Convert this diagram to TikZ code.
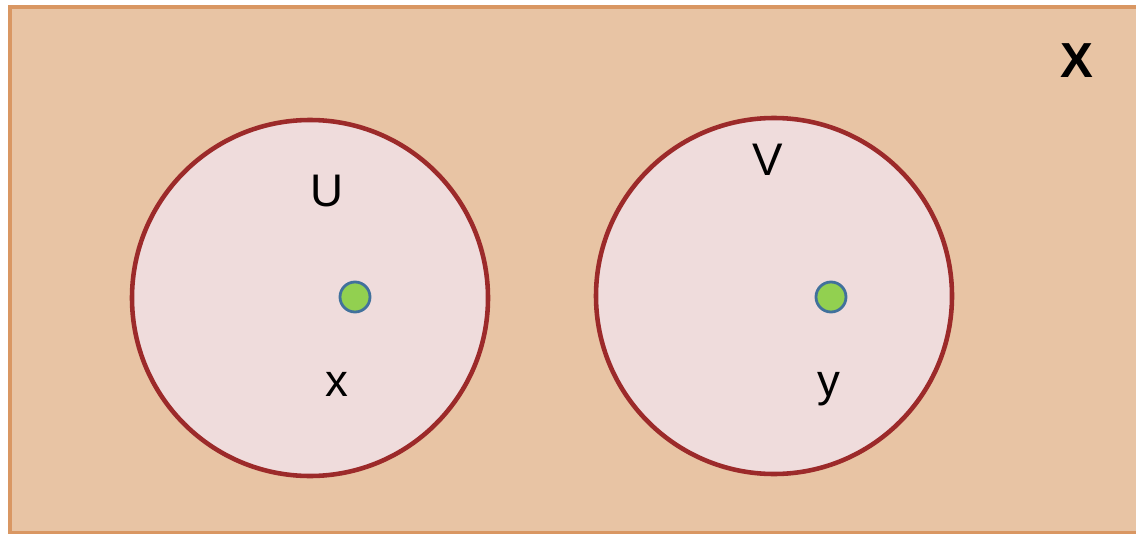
\documentclass[tikz,border=0pt]{standalone}
\usepackage{fontspec}
\setmainfont{Liberation Sans}
\definecolor{spacefill}{HTML}{E8C4A4}
\definecolor{spaceedge}{HTML}{D99763}
\definecolor{setfill}{HTML}{EFDCDC}
\definecolor{setedge}{HTML}{9C2A2A}
\definecolor{ptfill}{HTML}{92D050}
\definecolor{ptedge}{HTML}{41719C}

\begin{document}
\begin{tikzpicture}[x=0.02cm, y=-0.02cm, thick]
  \useasboundingbox (0,0) rectangle (1136,534);
  \clip (0,0) rectangle (1136,534);

  % 空间 X
  \filldraw[fill=spacefill, draw=spaceedge, line width=2.5pt] (10,7) rectangle (1145,533);
  \node[font=\fontsize{28}{30}\selectfont\bfseries] (X) at (1077,61) {X};

  \coordinate (cU) at (310,298);
  \coordinate (cV) at (774,296);
  \coordinate (x) at (355,297);
  \coordinate (y) at (831,297);

  % 两个开集
  \filldraw[fill=setfill, draw=setedge, line width=2.6pt] (cU) circle (178);
  \filldraw[fill=setfill, draw=setedge, line width=2.6pt] (cV) circle (178);

  % 两个点
  \filldraw[fill=ptfill, draw=ptedge, line width=1.6pt] (x) circle (15);
  \filldraw[fill=ptfill, draw=ptedge, line width=1.6pt] (y) circle (15);

  \node[font=\fontsize{26}{30}\selectfont] (U) at (327,191) {U};
  \node[font=\fontsize{26}{30}\selectfont] (V) at (768,160) {V};
  \node[font=\fontsize{26}{30}\selectfont, anchor=base] (xl) at (337,396) {x};
  \node[font=\fontsize{26}{30}\selectfont, anchor=base] (yl) at (829,396) {y};
\end{tikzpicture}
\end{document}
